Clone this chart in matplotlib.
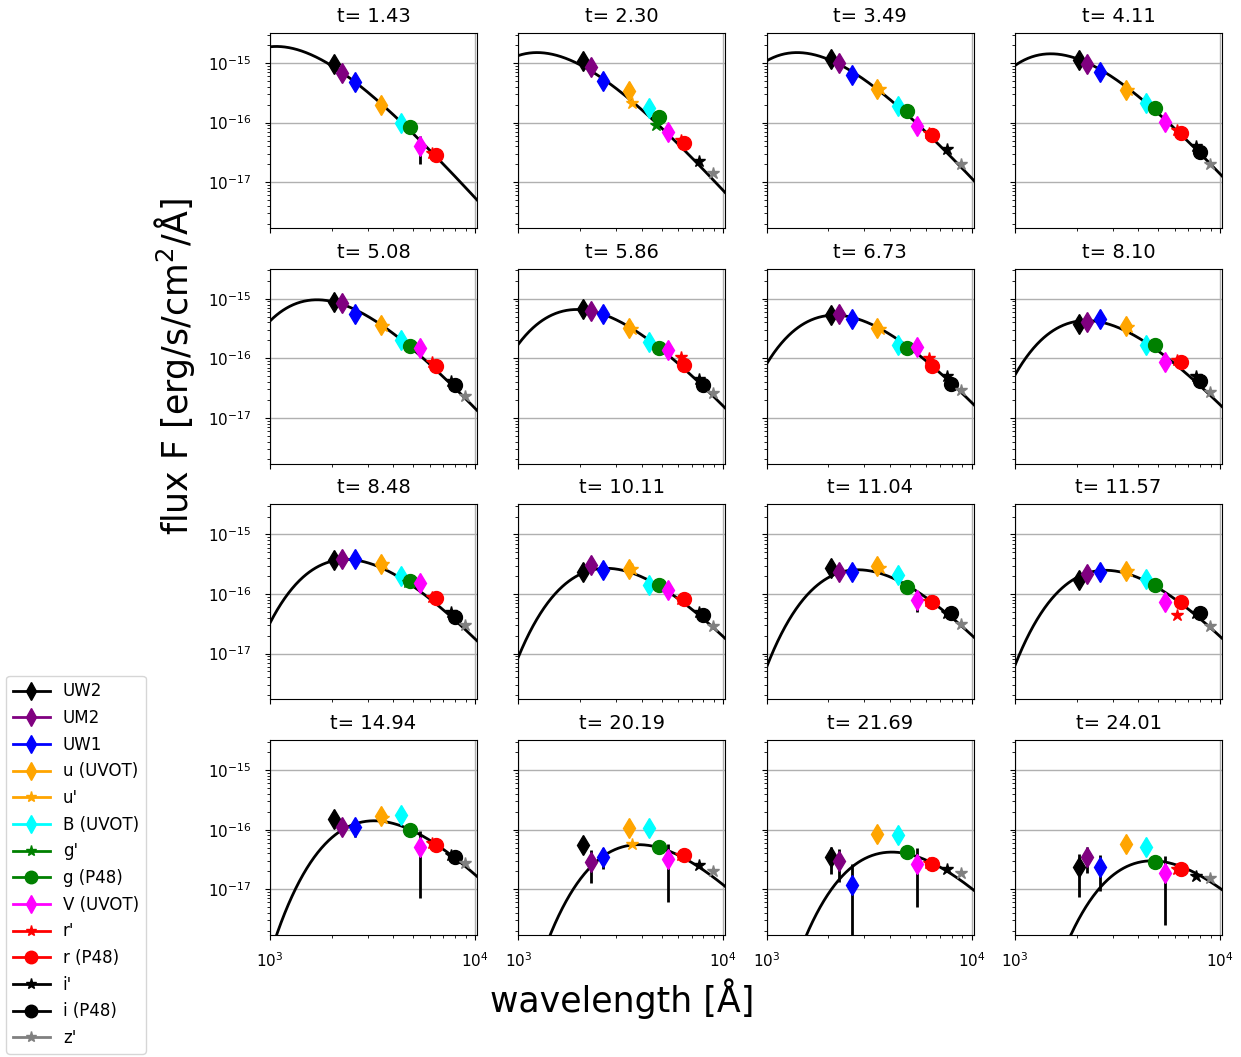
import numpy as np
import matplotlib
matplotlib.use("Agg")
import matplotlib.pyplot as plt
from matplotlib.lines import Line2D

nan = np.nan

# ---------------- data ----------------
epochs = [1.43, 2.30, 3.49, 4.11, 5.08, 5.86, 6.73, 8.10,
          8.48, 10.11, 11.04, 11.57, 14.94, 20.19, 21.69, 24.01]

band_names = ["UW2", "UM2", "UW1", "u (UVOT)", "u'", "B (UVOT)", "g'", "g (P48)",
              "V (UVOT)", "r'", "r (P48)", "i'", "i (P48)", "z'"]
band_wave = [2060, 2250, 2600, 3470, 3570, 4350, 4700, 4840,
             5400, 6200, 6420, 7600, 7950, 8900]
band_color = ["black", "purple", "blue", "orange", "orange", "cyan", "green", "green",
              "magenta", "red", "red", "black", "black", "gray"]
band_marker = ["d", "d", "d", "d", "*", "d", "*", "o", "d", "*", "o", "*", "o", "*"]

flux_UW2 = [9.7e-16, 1.1e-15, 1.15e-15, 1.14e-15, 8.8e-16, 6.8e-16, 5.3e-16, 3.8e-16,
            3.7e-16, 2.3e-16, 2.7e-16, 1.7e-16, 1.5e-16, 5.6e-17, 3.5e-17, 2.35e-17]
flux_UM2 = [6.9e-16, 8.5e-16, 1.0e-15, 9.6e-16, 8.4e-16, 6.2e-16, 5.6e-16, 4.1e-16,
            3.8e-16, 3.1e-16, 2.3e-16, 2.2e-16, 1.1e-16, 2.9e-17, 3.0e-17, 3.5e-17]
flux_UW1 = [4.8e-16, 5.0e-16, 6.4e-16, 7.1e-16, 5.5e-16, 5.5e-16, 4.6e-16, 4.5e-16,
            3.8e-16, 2.55e-16, 2.3e-16, 2.35e-16, 1.1e-16, 3.5e-17, 1.17e-17, 2.35e-17]
flux_u_uvot = [2.0e-16, 3.4e-16, 3.7e-16, 3.5e-16, 3.6e-16, 3.2e-16, 3.2e-16, 3.5e-16,
               3.2e-16, 2.6e-16, 2.9e-16, 2.4e-16, 1.67e-16, 1.05e-16, 8.5e-17, 5.8e-17]
flux_u_prime = [nan, 2.1e-16, 3.6e-16, 3.5e-16, 3.5e-16, 3.1e-16, 3.1e-16, 3.3e-16,
                3.2e-16, 2.6e-16, 2.7e-16, 2.4e-16, 1.55e-16, 5.7e-17, nan, nan]
flux_B = [1.0e-16, 1.75e-16, 1.9e-16, 2.1e-16, 2.0e-16, 1.9e-16, 1.7e-16, 1.67e-16,
          2.0e-16, 1.43e-16, 2.1e-16, 1.78e-16, 1.78e-16, 1.05e-16, 8.2e-17, 5.1e-17]
flux_g_prime = [nan, 9.1e-17, nan, nan, nan, nan, nan, nan,
                1.6e-16, nan, nan, nan, nan, nan, nan, nan]
flux_g_p48 = [8.5e-17, 1.23e-16, 1.55e-16, 1.74e-16, 1.6e-16, 1.5e-16, 1.47e-16, 1.67e-16,
              1.67e-16, 1.43e-16, 1.3e-16, 1.43e-16, 1.0e-16, 5.2e-17, 4.2e-17, 2.9e-17]
flux_V = [4.0e-17, 7.0e-17, 8.9e-17, 1.04e-16, 1.47e-16, 1.38e-16, 1.56e-16, 8.5e-17,
          1.5e-16, 1.18e-16, 7.9e-17, 7.4e-17, 5.1e-17, 3.2e-17, 2.7e-17, 1.9e-17]
flux_r_prime = [3.1e-17, 5.1e-17, 6.6e-17, 7.6e-17, 8.8e-17, 1.04e-16, 1.0e-16, 9.4e-17,
                8.8e-17, 8.3e-17, 7.5e-17, 4.4e-17, 6.0e-17, 3.8e-17, 2.8e-17, 2.2e-17]
flux_r_p48 = [2.8e-17, 4.6e-17, 6.3e-17, 6.6e-17, 7.4e-17, 7.7e-17, 7.4e-17, 8.5e-17,
              8.5e-17, 8.1e-17, 7.2e-17, 7.2e-17, 5.6e-17, 3.7e-17, 2.7e-17, 2.15e-17]
flux_i_prime = [nan, 2.3e-17, 3.6e-17, 4.0e-17, 4.1e-17, 4.5e-17, 5.1e-17, 5.1e-17,
                4.9e-17, 4.9e-17, 4.8e-17, 4.8e-17, 3.8e-17, 2.6e-17, 2.2e-17, 1.67e-17]
flux_i_p48 = [nan, nan, nan, 3.2e-17, 3.5e-17, 3.6e-17, 3.7e-17, 4.1e-17,
              4.1e-17, 4.5e-17, 4.8e-17, 4.8e-17, 3.5e-17, nan, nan, nan]
flux_z_prime = [nan, 1.4e-17, 2.0e-17, 2.0e-17, 2.3e-17, 2.6e-17, 2.9e-17, 2.7e-17,
                3.0e-17, 2.9e-17, 3.1e-17, 2.9e-17, 2.75e-17, 2.0e-17, 1.9e-17, 1.55e-17]

err_UW2 = [0, 0, 0, 0, 0, 0, 0, 0, 0, 0, 0, 0, 0, 0, 1.7e-17, 1.6e-17]
err_UM2 = [0, 0, 0, 0, 0, 0, 0, 0, 0, 0, 0, 0, 0, 1.65e-17, 1.7e-17, 1.6e-17]
err_UW1 = [0, 0, 0, 0, 0, 0, 0, 0, 0, 0, 0, 0, 3.5e-17, 1.35e-17, 1.45e-17, 1.4e-17]
err_B = [0, 0, 0, 0, 0, 0, 0, 0, 0, 0, 0, 0, 0, 0, 0, 5e-18]
err_V = [2.0e-17, 0, 0, 0, 0, 0, 0, 0, 0, 0, 3.0e-17, 1.5e-17, 4.4e-17, 2.6e-17, 2.2e-17, 1.65e-17]
zeros = [0] * 16

band_flux = [flux_UW2, flux_UM2, flux_UW1, flux_u_uvot, flux_u_prime, flux_B, flux_g_prime,
             flux_g_p48, flux_V, flux_r_prime, flux_r_p48, flux_i_prime, flux_i_p48, flux_z_prime]
band_err = [err_UW2, err_UM2, err_UW1, zeros, zeros, err_B, zeros,
            zeros, err_V, zeros, zeros, zeros, zeros, zeros]

# blackbody fit parameters per epoch (temperature [K], peak flux)
bb_temp = [27000, 23500, 20600, 19400, 17100, 15000, 13500, 13000,
           12300, 10800, 10400, 10500, 9000, 7500, 7100, 6200]
bb_peak = [1.9e-15, 1.5e-15, 1.5e-15, 1.43e-15, 9.6e-16, 6.6e-16, 5.3e-16, 4.3e-16,
           3.8e-16, 2.7e-16, 2.55e-16, 2.5e-16, 1.41e-16, 5.6e-17, 4.2e-17, 3.0e-17]


def planck(lam, T):
    x = 1.4388e8 / (lam * T)
    return lam ** -5 / np.expm1(x)


# ---------------- figure ----------------
fig, axes = plt.subplots(4, 4, figsize=(12.41, 10.57), dpi=100, sharex=True, sharey=True)
fig.subplots_adjust(left=0.2176, right=0.9847, top=0.9688, bottom=0.1154,
                    wspace=0.2, hspace=0.209)

lam_grid = np.logspace(3, np.log10(1.05e4), 400)

for k, ax in enumerate(axes.flat):
    T = bb_temp[k]
    curve = planck(lam_grid, T) / planck(2.8978e7 / T, T) * bb_peak[k]
    ax.plot(lam_grid, curve, color="black", lw=2, zorder=2)
    for b in range(len(band_names)):
        f = band_flux[b][k]
        if np.isnan(f):
            continue
        e = band_err[b][k]
        ax.errorbar([band_wave[b]], [f], yerr=[e] if e > 0 else None,
                    fmt=band_marker[b], color=band_color[b], ecolor="black",
                    elinewidth=2, markersize=10 if band_marker[b] != "*" else 9,
                    zorder=3)
    ax.set_xscale("log")
    ax.set_yscale("log")
    ax.set_xlim(1000, 10230)
    ax.set_ylim(1.7e-18, 3.2e-15)
    ax.grid(True, which="major", color="#b0b0b0", lw=1)
    ax.set_title("t= %.2f" % epochs[k], fontsize=14, pad=8)
    ax.tick_params(labelsize=11)
    ax.tick_params(axis="y", which="both", pad=10)
    ax.tick_params(axis="x", which="both", pad=8)

axes[1][0].set_ylabel("flux F [erg/s/cm$^2$/Å]", fontsize=25, labelpad=8)
axes[3][1].set_xlabel("wavelength [Å]", fontsize=25, labelpad=6)

handles = [Line2D([0], [0], color=band_color[b], marker=band_marker[b], lw=2,
                  markersize=9 if band_marker[b] != "*" else 8)
           for b in range(len(band_names))]
fig.legend(handles, band_names, loc="lower left",
           bbox_to_anchor=(0.005, 0.003), fontsize=12, labelspacing=0.52,
           handlelength=2.2, borderaxespad=0.0)

fig.savefig("out.png", dpi=100)
